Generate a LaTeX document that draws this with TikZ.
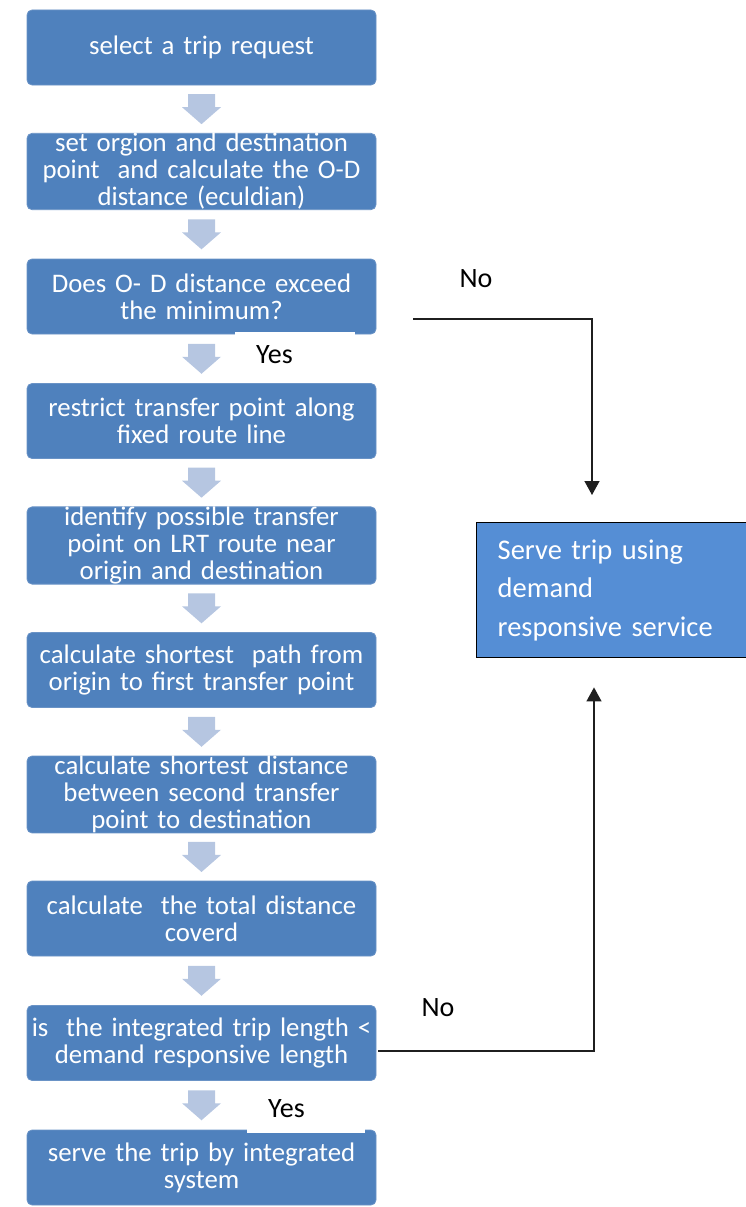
\documentclass[tikz,border=0pt]{standalone}
\usepackage{fontspec}
\setmainfont{Carlito}
\usetikzlibrary{arrows.meta,calc}

\definecolor{stepblue}{HTML}{4F81BD}
\definecolor{stepedge}{HTML}{6A93C6}
\definecolor{altblue}{HTML}{558ED5}
\definecolor{flowarrow}{HTML}{B6C6E1}

\tikzset{
  stepbox/.style={rectangle, rounded corners=5pt, fill=stepblue, draw=stepedge,
    line width=0.8pt, minimum width=349pt, minimum height=75pt,
    text width=345pt, inner sep=0pt, align=center, text=white,
    font=\fontsize{26.8}{27}\selectfont},
  altbox/.style={rectangle, fill=altblue, draw=black, line width=1.4pt,
    minimum width=269pt, minimum height=135pt, text width=228pt,
    inner xsep=21pt, inner ysep=0pt, align=left, text=white,
    font=\fontsize{28.5}{38.5}\selectfont},
  answer/.style={font=\fontsize{28}{30}\selectfont, text=black},
  answerpad/.style={answer, fill=white, anchor=north west, inner xsep=21pt,
    inner ysep=0pt, align=left},
  flowline/.style={draw=black!88, line width=1.3pt,
    -{Triangle[width=15pt,length=14pt]}},
  pics/downblock/.style={code={
    \fill[flowarrow] (-13.5,0) -- (13.5,0) -- (13.5,13) -- (19.5,13)
      -- (0,30) -- (-19.5,13) -- (-13.5,13) -- cycle;}}
}

\begin{document}
\begin{tikzpicture}[x=1pt, y=-1pt]
  \useasboundingbox (0,0) rectangle (746,1207);

  % main sequence of steps
  \node[stepbox] (b1)  at (201.5,47.5)  {select a trip request};
  \node[stepbox] (b2)  at (201.5,171.5) {set orgion and destination\\point\ \ and calculate the O-D\\distance (eculdian)};
  \node[stepbox] (b3)  at (201.5,296.5) {Does O- D distance exceed\\the minimum?};
  \node[stepbox] (b4)  at (201.5,421)   {restrict transfer point along\\fixed route line};
  \node[stepbox] (b5)  at (201.5,545.5) {identify possible transfer\\point on LRT route near\\origin and destination};
  \node[stepbox] (b6)  at (201.5,670)   {calculate shortest\ \ path from\\origin to first transfer point};
  \node[stepbox] (b7)  at (201.5,794.5) {calculate shortest distance\\between second transfer\\point to destination};
  \node[stepbox] (b8)  at (201.5,918.5) {calculate\ \ the total distance\\coverd};
  \node[stepbox] (b9)  at (201.5,1043)  {is\ \ the integrated trip length <\\demand responsive length};
  \node[stepbox] (b10) at (201.5,1167.5){serve the trip by integrated\\system};

  % block arrows between consecutive steps
  \foreach \i [evaluate=\i as \j using int(\i+1)] in {1,...,9}
    \pic at ($(b\i.south)!0.5!(b\j.north)+(0,-15)$) {downblock};

  % alternative outcome
  \node[altbox, anchor=north west] (alt) at (476,522)
    {Serve trip using\\demand\\responsive service};

  % answer labels
  \node[answerpad, minimum height=44pt, text width=78pt] (yes1) at (235,332) {Yes};
  \node[answerpad, minimum height=49pt, text width=76pt] (yes2) at (247,1084) {Yes};
  \node[answer] (no1) at (476,279)  {No};
  \node[answer] (no2) at (438,1008) {No};

  % branch connectors to the alternative service
  \coordinate (noAstart) at ($(b3.east)+(37,22.5)$);
  \coordinate (noAend)   at ($(alt.north west)+(116,-27)$);
  \draw[flowline] (noAstart) -| (noAend);

  \coordinate (noBstart) at ($(b9.east)+(2,8)$);
  \coordinate (noBend)   at ($(alt.south west)+(118,29)$);
  \draw[flowline] (noBstart) -| (noBend);
\end{tikzpicture}
\end{document}
